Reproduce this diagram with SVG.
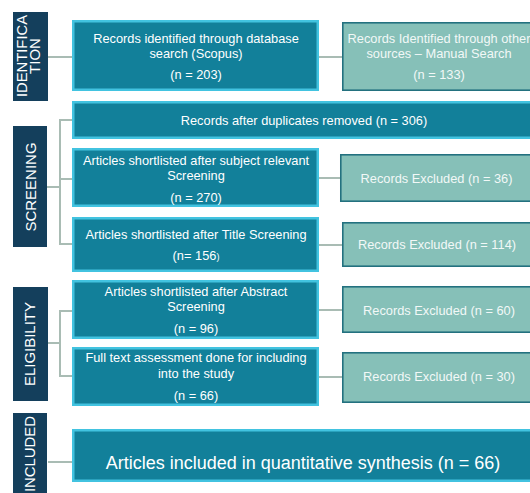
<svg xmlns="http://www.w3.org/2000/svg" width="530" height="493" viewBox="0 0 530 493">
  <style>
    .main { fill: #12809a; stroke: #42c3e0; stroke-width: 2.5; }
    .side { fill: #86c0b8; stroke: #23717f; stroke-width: 1.6; }
    .phase { fill: #143f5c; }
    .t { font-family: "Liberation Sans", Arial, sans-serif; font-size: 12.8px; fill: #ffffff; text-anchor: middle; }
    .ts { font-family: "Liberation Sans", Arial, sans-serif; font-size: 12.8px; fill: #f2f8f7; text-anchor: middle; }
    .big { font-size: 18px; }
    .lab { font-family: "Liberation Sans", Arial, sans-serif; font-size: 15px; fill: #ffffff; text-anchor: middle; }
    .conn line { stroke: #a9bcb4; stroke-width: 2; fill: none; }
  </style>
  <rect width="530" height="493" fill="#ffffff"/>

  <!-- phase labels -->
  <g id="phase-identification">
    <rect class="phase" x="13" y="12" width="35" height="89"/>
    <text class="lab" transform="translate(27,56) rotate(-90)" textLength="82" lengthAdjust="spacingAndGlyphs">IDENTIFICA</text>
    <text class="lab" transform="translate(40,56) rotate(-90)">TION</text>
  </g>
  <g id="phase-screening">
    <rect class="phase" x="13" y="126" width="34" height="121"/>
    <text class="lab" transform="translate(35.5,187) rotate(-90)">SCREENING</text>
  </g>
  <g id="phase-eligibility">
    <rect class="phase" x="13" y="287" width="35" height="114"/>
    <text class="lab" transform="translate(34.5,344) rotate(-90)" textLength="84" lengthAdjust="spacing">ELIGIBILITY</text>
  </g>
  <g id="phase-included">
    <rect class="phase" x="13" y="413" width="34" height="85"/>
    <text class="lab" transform="translate(35,454) rotate(-90)" textLength="76" lengthAdjust="spacing">INCLUDED</text>
  </g>

  <!-- connectors -->
  <g id="connectors" class="conn">
    <line x1="48" y1="57" x2="72" y2="57"/>
    <line x1="319" y1="57" x2="342" y2="57"/>
    <line x1="47" y1="187" x2="60" y2="187"/>
    <line x1="60" y1="119" x2="60" y2="245"/>
    <line x1="59" y1="120" x2="72" y2="120"/>
    <line x1="60" y1="179" x2="72" y2="179"/>
    <line x1="59" y1="244" x2="72" y2="244"/>
    <line x1="319" y1="178" x2="340" y2="178"/>
    <line x1="319" y1="245" x2="342" y2="245"/>
    <line x1="48" y1="343" x2="60" y2="343"/>
    <line x1="60" y1="310" x2="60" y2="377"/>
    <line x1="59" y1="311" x2="72" y2="311"/>
    <line x1="59" y1="376" x2="72" y2="376"/>
    <line x1="319" y1="310" x2="342" y2="310"/>
    <line x1="319" y1="377" x2="342" y2="377"/>
    <line x1="48" y1="462" x2="72" y2="462"/>
  </g>

  <!-- identification -->
  <g id="db-search">
    <rect class="main" x="73.25" y="21.25" width="244.5" height="68.5"/>
    <text class="t" x="196" y="43">Records identified through database</text>
    <text class="t" x="196" y="58">search (Scopus)</text>
    <text class="t" x="196" y="79">(n = 203)</text>
  </g>
  <g id="manual-search">
    <rect class="side" x="342.8" y="22.8" width="200" height="67.4"/>
    <text class="ts" x="439" y="43">Records Identified through other</text>
    <text class="ts" x="439" y="58">sources – Manual Search</text>
    <text class="ts" x="439" y="79">(n = 133)</text>
  </g>

  <!-- screening -->
  <g id="after-duplicates">
    <rect class="main" x="73.25" y="102.25" width="470" height="35.5"/>
    <text class="t" x="304" y="124.5">Records after duplicates removed (n = 306)</text>
  </g>
  <g id="subject-screening">
    <rect class="main" x="73.25" y="149.25" width="244.5" height="56.5"/>
    <text class="t" x="196" y="165">Articles shortlisted after subject relevant</text>
    <text class="t" x="196" y="180">Screening</text>
    <text class="t" x="196" y="202">(n = 270)</text>
  </g>
  <g id="excluded-36">
    <rect class="side" x="340.8" y="154.8" width="200" height="46.4"/>
    <text class="ts" x="436.5" y="183">Records Excluded (n = 36)</text>
  </g>
  <g id="title-screening">
    <rect class="main" x="73.25" y="218.25" width="244.5" height="52.5"/>
    <text class="t" x="196" y="239">Articles shortlisted after Title Screening</text>
    <text class="t" x="196" y="260">(n= 156<tspan font-size="9px">)</tspan></text>
  </g>
  <g id="excluded-114">
    <rect class="side" x="342.8" y="222.8" width="200" height="43.4"/>
    <text class="ts" x="437" y="249">Records Excluded (n = 114)</text>
  </g>

  <!-- eligibility -->
  <g id="abstract-screening">
    <rect class="main" x="73.25" y="281.25" width="244.5" height="56.5"/>
    <text class="t" x="196" y="296">Articles shortlisted after Abstract</text>
    <text class="t" x="196" y="311">Screening</text>
    <text class="t" x="196" y="333">(n = 96)</text>
  </g>
  <g id="excluded-60">
    <rect class="side" x="342.8" y="286.8" width="200" height="45.4"/>
    <text class="ts" x="439" y="315">Records Excluded (n = 60)</text>
  </g>
  <g id="full-text">
    <rect class="main" x="73.25" y="348.25" width="244.5" height="56.5"/>
    <text class="t" x="196" y="362">Full text assessment done for including</text>
    <text class="t" x="196" y="378">into the study</text>
    <text class="t" x="196" y="400">(n = 66)</text>
  </g>
  <g id="excluded-30">
    <rect class="side" x="342.8" y="352.8" width="200" height="49.4"/>
    <text class="ts" x="439" y="381">Records Excluded (n = 30)</text>
  </g>

  <!-- included -->
  <g id="included">
    <rect class="main" x="73.25" y="430.25" width="470" height="50.5"/>
    <text class="t big" x="303" y="469">Articles included in quantitative synthesis (n = 66)</text>
  </g>
</svg>
